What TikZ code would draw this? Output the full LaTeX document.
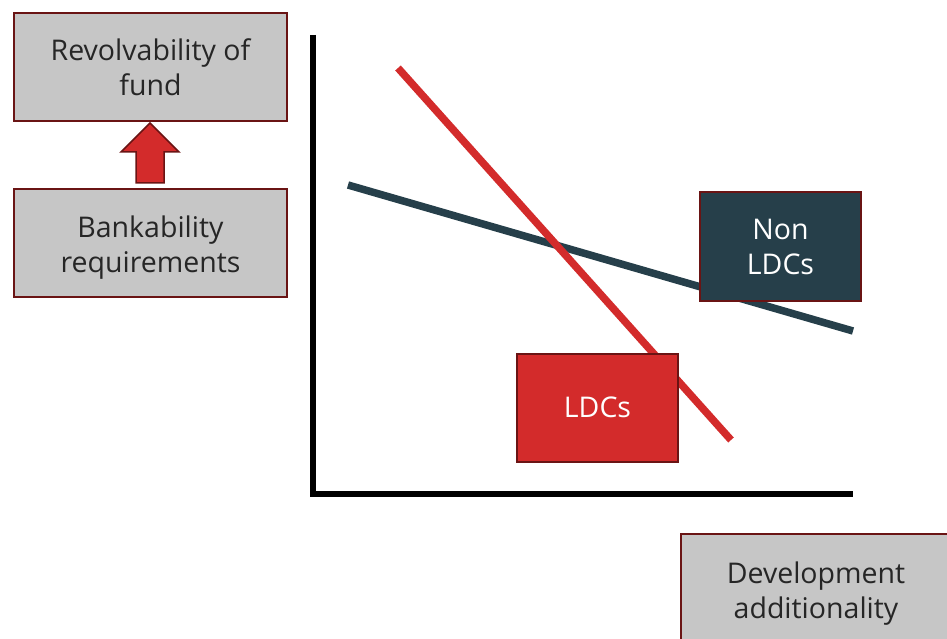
\documentclass[tikz,border=0pt]{standalone}
\usepackage{fontspec}
\setmainfont{Open Sans}
\usepackage{tikz}
\usepackage{xcolor}

\definecolor{boxedge}{HTML}{6A1414}
\definecolor{boxgrey}{HTML}{C6C6C6}
\definecolor{ldcred}{HTML}{D32B2B}
\definecolor{nonldc}{HTML}{263F4A}

\tikzset{
  greybox/.style={draw=boxedge, line width=2pt, fill=boxgrey, rectangle, align=center,
    minimum width=273pt, minimum height=108pt, inner sep=0pt, text=black!85,
    font=\fontsize{28.5}{35}\selectfont},
  boxtext/.style={align=center, inner sep=0pt, text=black!85, font=\fontsize{28.5}{35}\selectfont},
  groupbox/.style={draw=boxedge, line width=2pt, rectangle, align=center, text=white,
    minimum width=161pt, minimum height=108pt, inner sep=0pt, font=\fontsize{28.5}{35}\selectfont},
  axisline/.style={line width=6pt, black},
  trend/.style={line width=7.5pt}
}

\begin{document}
\begin{tikzpicture}[x=1pt, y=-1pt]
\useasboundingbox (0,0) rectangle (947,639);
\clip (0,0) rectangle (947,639);

% Left boxes
\node[greybox] (revolv) at (150.5,67) {Revolvability of\\fund};
\node[greybox] (bank) at (150.5,243) {};
\node[boxtext] (banktext) at ([yshift=-5pt]bank.center) {Bankability\\requirements};

% Block arrow
\draw[boxedge, line width=1.5pt, fill=ldcred]
  (136,183) -- (136,152) -- (121,152) -- (150,123) -- (179,152) -- (164,152) -- (164,183) -- cycle;

% Axes
\coordinate (origin) at (313,494);
\coordinate (ytop) at (313,35);
\coordinate (xend) at (853,494);
\draw[axisline] (ytop) -- (origin) -- (xend);

% Trend lines
\coordinate (n1) at (348,185);
\coordinate (n2) at (853,331);
\coordinate (l1) at (398,68);
\coordinate (l2) at (731,440);
\draw[trend, nonldc] (n1) -- (n2);
\draw[trend, ldcred] (l1) -- (l2);

% Group labels
\node[groupbox, fill=nonldc] (nonldcs) at (780.5,246.5) {Non\\LDCs};
\node[groupbox, fill=ldcred] (ldcs) at (597.5,407.5) {LDCs};

% x axis label
\node[greybox, minimum width=270pt, minimum height=120pt] (devadd) at (816,594) {Development\\additionality};
\end{tikzpicture}
\end{document}
